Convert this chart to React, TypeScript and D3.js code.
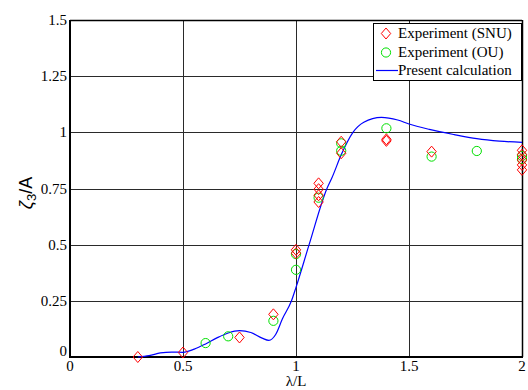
import React from "react";
import * as d3 from "d3";

// Measured free-surface response, SNU tank
const snuX = [0.3, 0.5, 0.75, 0.9, 1.0, 1.0, 1.1, 1.1, 1.1, 1.1, 1.2, 1.2, 1.4, 1.4, 1.6, 2.0, 2.0, 2.0, 2.0, 2.0];
const snuY = [0.0, 0.02, 0.087, 0.19, 0.477, 0.462, 0.773, 0.747, 0.72, 0.69, 0.958, 0.907, 0.969, 0.962, 0.914, 0.92, 0.9, 0.877, 0.855, 0.833];

// Measured free-surface response, OU tank
const ouX = [0.6, 0.7, 0.9, 1.0, 1.0, 1.1, 1.2, 1.2, 1.4, 1.6, 1.8, 2.0, 2.0];
const ouY = [0.062, 0.092, 0.161, 0.458, 0.388, 0.709, 0.951, 0.918, 1.018, 0.892, 0.917, 0.881, 0.895];

// Present calculation
const calcX = [0.3, 0.35, 0.4, 0.45, 0.5, 0.55, 0.6, 0.65, 0.7, 0.75, 0.8, 0.85, 0.88, 0.91, 0.94, 0.98, 1.0, 1.058, 1.137, 1.16, 1.2, 1.252, 1.3, 1.378, 1.45, 1.5, 1.59, 1.7, 1.8, 1.9, 2.0];
const calcY = [0.0, 0.006, 0.018, 0.022, 0.021, 0.035, 0.058, 0.085, 0.107, 0.117, 0.109, 0.084, 0.074, 0.1, 0.17, 0.25, 0.31, 0.5, 0.75, 0.8, 0.9, 1.0, 1.045, 1.067, 1.055, 1.037, 1.013, 0.99, 0.972, 0.961, 0.955];

const xTicks = [0, 0.5, 1, 1.5, 2];
const xTickLabels = ["0", "0.5", "1", "1.5", "2"];
const yTicks = [0, 0.25, 0.5, 0.75, 1, 1.25, 1.5];
const yTickLabels = ["0", "0.25", "0.5", "0.75", "1", "1.25", "1.5"];

const legendLabels = ["Experiment (SNU)", "Experiment (OU)", "Present calculation"];

const W = 528;
const H = 390;
const left = 70;
const right = 522;
const top = 20;
const bottom = 357;

const serif = { fontFamily: "Liberation Serif, Times New Roman, serif" };
const sans = { fontFamily: "Liberation Sans, Arial, sans-serif" };

export default function App() {
  const x = d3.scaleLinear().domain([0, 2]).range([left, right]);
  const y = d3.scaleLinear().domain([0, 1.5]).range([bottom, top]);

  const line = d3
    .line<number>()
    .x((_, i) => x(calcX[i]))
    .y((d) => y(d))
    .curve(d3.curveMonotoneX);

  const diamond = (cx: number, cy: number, key: string | number) => (
    <path
      key={key}
      d={`M${cx},${cy - 5.5}L${cx + 4.7},${cy}L${cx},${cy + 5.5}L${cx - 4.7},${cy}Z`}
      fill="none"
      stroke="#ff0000"
      strokeWidth={1}
    />
  );

  const lx = 373;
  const ly = 23;
  const lw = 148;
  const lh = 57;

  return (
    <svg
      width={W}
      height={H}
      style={{ position: "absolute", left: 0, top: 0, background: "#fff" }}
    >
      <rect x={0} y={0} width={W} height={H} fill="#fff" />
      {/* grid */}
      <g stroke="#2a2a2a" strokeWidth={1}>
        {xTicks.slice(1, -1).map((t) => (
          <line key={"gx" + t} x1={Math.round(x(t)) + 0.5} x2={Math.round(x(t)) + 0.5} y1={top} y2={bottom} />
        ))}
        {yTicks.slice(1, -1).map((t) => (
          <line key={"gy" + t} x1={left} x2={right} y1={Math.round(y(t)) + 0.5} y2={Math.round(y(t)) + 0.5} />
        ))}
      </g>
      {/* frame */}
      <g stroke="#000" fill="none">
        <line x1={left} x2={right} y1={top + 0.5} y2={top + 0.5} strokeWidth={1.5} />
        <line x1={right + 0.5} x2={right + 0.5} y1={top} y2={bottom} strokeWidth={1.5} />
        <line x1={left} x2={left} y1={top} y2={bottom + 1} strokeWidth={2} />
        <line x1={left - 1} x2={right + 1} y1={bottom} y2={bottom} strokeWidth={2} />
      </g>
      {/* tick labels */}
      <g style={{ ...serif, fontSize: 15 }} fill="#000">
        {xTicks.map((t, i) => (
          <text key={"xl" + t} x={x(t)} y={371} textAnchor="middle">
            {xTickLabels[i]}
          </text>
        ))}
        {yTicks.map((t, i) => (
          <text key={"yl" + t} x={left - 3} y={y(t) + (t === 0 ? -1 : 5)} textAnchor="end">
            {yTickLabels[i]}
          </text>
        ))}
      </g>
      {/* axis titles */}
      <text x={296} y={386} style={{ ...serif, fontSize: 15 }} textAnchor="middle" fill="#000">
        λ/L
      </text>
      <text
        transform={`translate(32,${193}) rotate(-90)`}
        style={{ ...sans, fontSize: 18 }}
        textAnchor="middle"
        fill="#000"
      >
        <tspan fontStyle="italic">ζ</tspan>
        <tspan fontSize={13} dy={4}>3</tspan>
        <tspan dy={-4}>/A</tspan>
      </text>
      {/* calculation */}
      <path d={line(calcY) ?? ""} fill="none" stroke="#0000ff" strokeWidth={1.2} />
      {/* OU markers */}
      {ouX.map((v, i) => (
        <circle key={"ou" + i} cx={x(v)} cy={y(ouY[i])} r={4.6} fill="none" stroke="#00e000" strokeWidth={1} />
      ))}
      {/* SNU markers */}
      {snuX.map((v, i) => diamond(x(v), y(snuY[i]), "snu" + i))}
      {/* legend */}
      <rect x={lx + 0.5} y={ly + 0.5} width={lw} height={lh} fill="#fff" stroke="#000" strokeWidth={1} />
      {diamond(lx + 13, ly + 10.5, "leg-d")}
      <circle cx={lx + 13} cy={ly + 29.5} r={4.6} fill="none" stroke="#00e000" strokeWidth={1} />
      <line x1={lx + 3} x2={lx + 25} y1={ly + 47.5} y2={ly + 47.5} stroke="#0000ff" strokeWidth={1.2} />
      <g style={{ ...serif, fontSize: 15 }} fill="#000">
        {legendLabels.map((s, i) => (
          <text key={s} x={lx + 25} y={ly + 15 + i * 18.5}>
            {s}
          </text>
        ))}
      </g>
    </svg>
  );
}
